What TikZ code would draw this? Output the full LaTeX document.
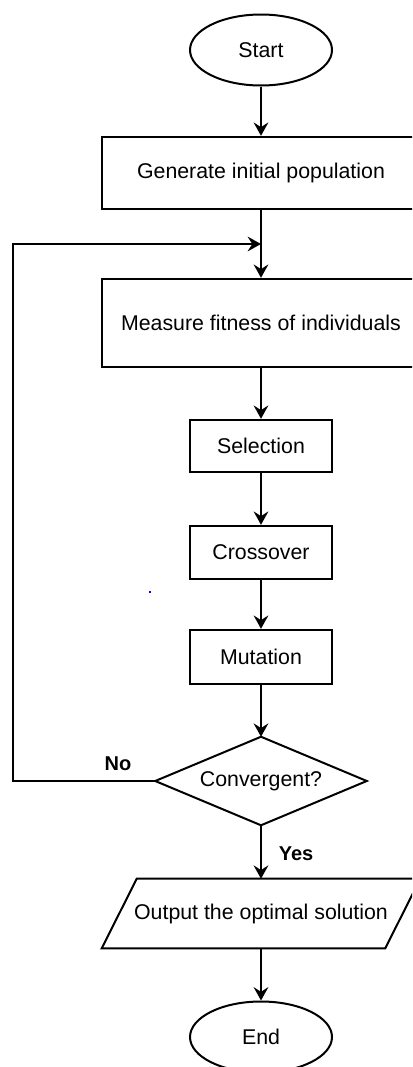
\documentclass[tikz,border=0pt]{standalone}
\usepackage{fontspec}
\setmainfont{Liberation Sans}
\usetikzlibrary{arrows.meta,shapes.geometric,calc}
\begin{document}
\begin{tikzpicture}[x=0.75pt,y=-0.75pt,
  every node/.style={font=\fontsize{16}{18}\selectfont, inner sep=0pt},
  term/.style={draw, ellipse, line width=1.5pt, minimum width=106.5pt, minimum height=53.25pt},
  proc/.style={draw, rectangle, line width=1.8pt},
  ghost/.style={rectangle, draw=none},
  outline/.style={line width=1.5pt, line join=miter},
  arr/.style={line width=1.8pt, -{Stealth[length=10pt,width=11pt,inset=3.5pt]}},
  lbl/.style={font=\fontsize{15}{18}\selectfont\bfseries}]
\useasboundingbox (0,0) rectangle (412,1067);
\clip (0,0) rectangle (412,1067);
\node[term] (start) at (261,50) {Start};
\node[proc, minimum width=238.5pt, minimum height=54pt] (gen) at (261,173) {Generate initial population};
\node[proc, minimum width=238.5pt, minimum height=66pt] (meas) at (261,323) {Measure fitness of individuals};
\node[proc, minimum width=106.5pt, minimum height=39pt] (sel) at (261,446) {Selection};
\node[proc, minimum width=106.5pt, minimum height=39.75pt] (cross) at (261,552.5) {Crossover};
\node[proc, minimum width=106.5pt, minimum height=40.5pt] (mut) at (261,657) {Mutation};
\node[ghost, minimum width=158.25pt, minimum height=66pt] (conv) at (261,781) {Convergent?};
\draw[outline] (conv.north) -- (conv.east) -- (conv.south) -- (conv.west) -- cycle;
\node[ghost, minimum width=238.5pt, minimum height=51.75pt] (out) at (261,913.5) {Output the optimal solution};
\draw[outline] (out.south west) -- ($(out.south east)+(-35,0)$) -- (out.north east) -- ($(out.north west)+(35,0)$) -- cycle;
\node[term] (end) at (261,1037) {End};
\coordinate (join) at (261,244);
\coordinate (lc) at (13,244);
\draw[arr] (start) -- (gen);
\draw[arr] (gen) -- (meas);
\draw[arr] (meas) -- (sel);
\draw[arr] (sel) -- (cross);
\draw[arr] (cross) -- (mut);
\draw[arr] (mut) -- (conv.north);
\draw[arr] (conv.south) -- (out.north);
\draw[arr] (out.south) -- (end);
\draw[arr] (conv.west) -| (lc) -- (join);
\node[lbl] (no) at (118,764) {No};
\node[lbl] (yes) at (296,854) {Yes};
\fill[blue] (149,591) rectangle (151,593);
\end{tikzpicture}
\end{document}
